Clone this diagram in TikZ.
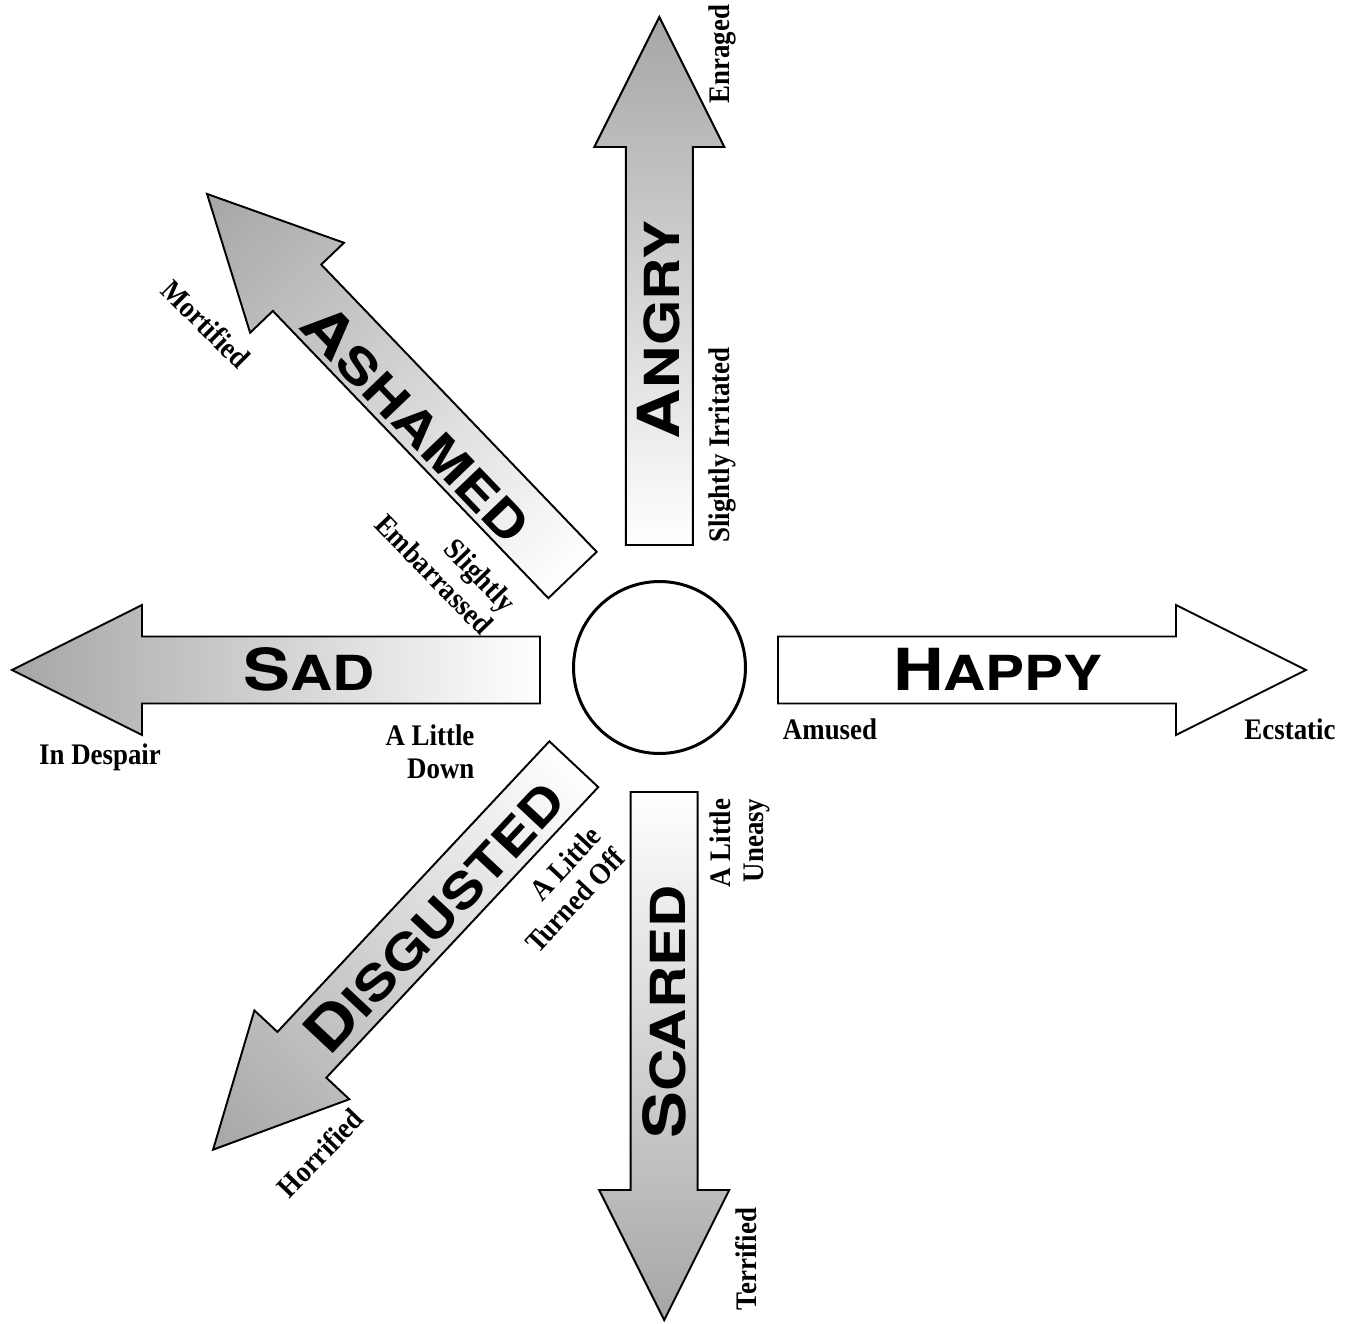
\documentclass[tikz,border=0pt]{standalone}
\usepackage{fontspec}
\setmainfont{Liberation Serif}[FakeStretch=0.9]
\newfontfamily\capsfont{TeX Gyre Heros}[FakeStretch=1.21]
\usepackage{tikz}

% big word: first letter large, the rest as small capitals
\newcommand{\capword}[2]{{\capsfont\bfseries\fontsize{33}{33}\selectfont #1\fontsize{27.5}{27.5}\selectfont #2}}
% one block arrow: base point, direction, fill
\newcommand{\moodarrow}[3]{%
  \begin{scope}[transform canvas={shift={#1},rotate=#2}]
    \path[arrowbody,#3] (0,-33.5) -- (398,-33.5) -- (398,-65) -- (528,0)
      -- (398,65) -- (398,33.5) -- (0,33.5) -- cycle;
  \end{scope}}

\tikzset{
  arrowbody/.style={draw=black, line width=1.1pt, line join=miter},
  fade/.style={left color=white, right color=gray!70},
  moodword/.style={inner sep=0pt},
  moodlabel/.style={inner sep=0pt, font=\bfseries\fontsize{17}{18.5}\selectfont},
}

\begin{document}
\begin{tikzpicture}[x=0.02cm,y=-0.02cm]
  \useasboundingbox (0,0) rectangle (1356,1323);

  % arrows
  \moodarrow{(778,670)}{0}{fill=white}
  \moodarrow{(540,670)}{180}{fade}
  \moodarrow{(659.3,545)}{90}{fade}
  \moodarrow{(664.2,792)}{-90}{fade}
  \moodarrow{(572.5,575)}{133.8}{fade}
  \moodarrow{(573.8,764.2)}{226.9}{fade}

  \node[circle, draw, line width=1.7pt, minimum size=3.44cm, inner sep=0pt] (hub) at (659.5,667.5) {};

  % emotion words
  \node[moodword] (happy) at (998,669) {\capword{H}{APPY}};
  \node[moodword] (sad) at (309,669) {\capword{S}{AD}};
  \node[moodword, rotate=90] (angry) at (659,330) {\capword{A}{NGRY}};
  \node[moodword, rotate=90] (scared) at (664,1012) {\capword{S}{CARED}};
  \node[moodword, rotate=-46.2] (ashamed) at (418,423) {\capword{A}{SHAMED}};
  \node[moodword, rotate=46.9] (disgusted) at (434,916) {\capword{D}{ISGUSTED}};

  % intensity labels
  \node[moodlabel, rotate=90] (enraged) at (722,54) {Enraged};
  \node[moodlabel, rotate=90] (irritated) at (722,445) {Slightly Irritated};
  \node[moodlabel, rotate=-45] (mortified) at (206,324) {Mortified};
  \node[moodlabel, rotate=-46, align=right] (embarrassed) at (446,563) {Slightly\\Embarrassed};
  \node[moodlabel] (despair) at (100,757) {In Despair};
  \node[moodlabel, align=right] (down) at (430,752) {A Little\\Down};
  \node[moodlabel] (amused) at (830,729) {Amused};
  \node[moodlabel] (ecstatic) at (1290,729) {Ecstatic};
  \node[moodlabel, rotate=47, align=right] (turnedoff) at (563,889) {A Little\\Turned Off};
  \node[moodlabel, rotate=90, align=right] (uneasy) at (740,843) {A Little\\Uneasy};
  \node[moodlabel, rotate=90] (terrified) at (746,1259) {Terrified};
  \node[moodlabel, rotate=46] (horrified) at (320,1153) {Horrified};
\end{tikzpicture}
\end{document}
